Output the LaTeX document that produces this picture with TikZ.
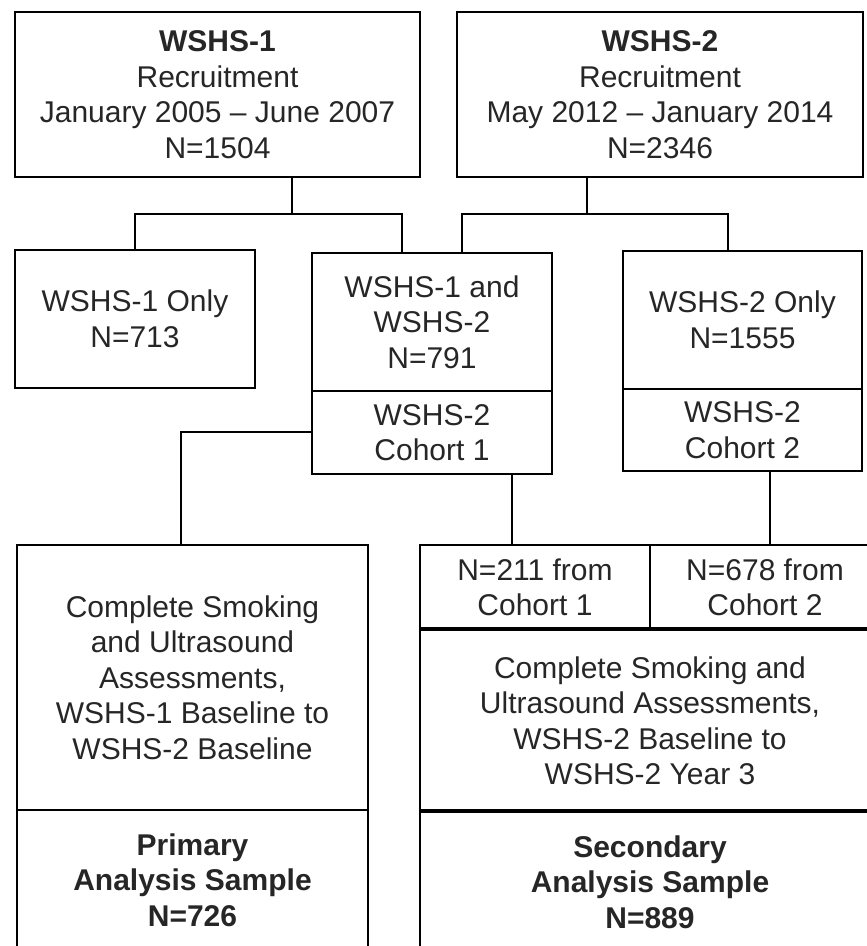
\documentclass[tikz,border=0pt]{standalone}
\usepackage{fontspec}
\setmainfont{Liberation Sans}
\begin{document}
\begin{tikzpicture}[x=1pt,y=-1pt,
  box/.style={draw=black, line width=2pt, inner sep=0pt, align=center,
    font=\fontsize{30}{35.5}\selectfont, text=black!85},
  conn/.style={draw=black, line width=2pt},
  thickrule/.style={draw=black, line width=4pt}]
\useasboundingbox (0,0) rectangle (867,946);
\clip (0,0) rectangle (867,946);
% top boxes
\node[box, minimum width=405pt, minimum height=165pt] (w1) at (217.5,94.5)
  {\textbf{WSHS-1}\\Recruitment\\January 2005 – June 2007\\N=1504};
\node[box, minimum width=406pt, minimum height=165pt] (w2) at (660,94.5)
  {\textbf{WSHS-2}\\Recruitment\\May 2012 – January 2014\\N=2346};
% second row
\node[box, minimum width=240pt, minimum height=138pt] (o1) at (135,319)
  {WSHS-1 Only\\N=713};
\node[box, minimum width=240pt, minimum height=138pt] (mt) at (432,322)
  {WSHS-1 and\\WSHS-2\\N=791};
\node[box, minimum width=240pt, minimum height=83pt] (mb) at (432,432.5)
  {WSHS-2\\Cohort 1};
\node[box, minimum width=239pt, minimum height=138pt] (ot) at (742.5,320)
  {WSHS-2 Only\\N=1555};
\node[box, minimum width=239pt, minimum height=82pt] (ob) at (742.5,430)
  {WSHS-2\\Cohort 2};
% primary
\node[box, minimum width=351pt, minimum height=265pt] (pt) at (192.5,677.5)
  {Complete Smoking\\and Ultrasound\\Assessments,\\WSHS-1 Baseline to\\WSHS-2 Baseline};
\node[box, minimum width=351pt, minimum height=140pt] (pb) at (192.5,880)
  {\textbf{Primary}\\\textbf{Analysis Sample}\\\textbf{N=726}};
% secondary
\node[box, minimum width=230pt, minimum height=85pt] (s1) at (535,587.5)
  {N=211 from\\Cohort 1};
\node[box, minimum width=230pt, minimum height=85pt] (s2) at (765,587.5)
  {N=678 from\\Cohort 2};
\node[box, minimum width=460pt, minimum height=182pt] (sm) at (650,721)
  {Complete Smoking and\\Ultrasound Assessments,\\WSHS-2 Baseline to\\WSHS-2 Year 3};
\node[box, minimum width=460pt, minimum height=140pt] (sb) at (650,882)
  {\textbf{Secondary}\\\textbf{Analysis Sample}\\\textbf{N=889}};
\draw[thickrule] (sm.north west) -- (sm.north east);
\draw[thickrule] (sb.north west) -- (sb.north east);
% connectors
\coordinate (j1) at ([xshift=74.5pt, yshift=-36pt]w1.south);
\coordinate (j2) at ([xshift=-73pt, yshift=-36pt]w2.south);
\draw[conn] ([xshift=74.5pt]w1.south) -- (j1);
\draw[conn] (o1.north) |- (j1);
\draw[conn] ([xshift=-30pt]mt.north) |- (j1);
\draw[conn] ([xshift=-73pt]w2.south) -- (j2);
\draw[conn] ([xshift=30pt]mt.north) |- (j2);
\draw[conn] ([xshift=-14.5pt]ot.north) |- (j2);
\draw[conn] ([yshift=0.5pt]mb.west) -| ([xshift=-11.5pt]pt.north);
\draw[conn] ([xshift=80pt]mb.south) -- ([xshift=-23pt]s1.north);
\draw[conn] ([xshift=27.5pt]ob.south) -- ([xshift=5pt]s2.north);
\end{tikzpicture}
\end{document}
